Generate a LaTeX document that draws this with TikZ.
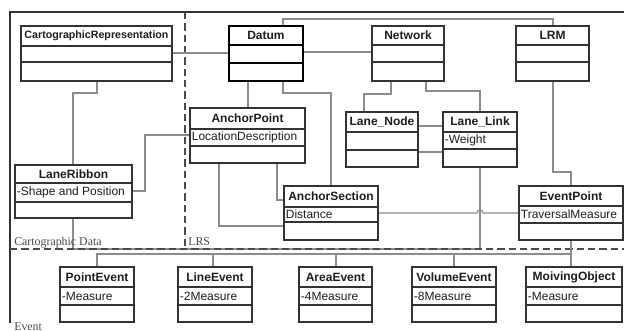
\documentclass[tikz,border=0pt]{standalone}
\usepackage{fontspec}
\setmainfont{Liberation Serif}
\setsansfont{Liberation Sans}
\definecolor{boxc}{HTML}{333333}
\definecolor{connc}{HTML}{8C8C8C}
\definecolor{sepc}{HTML}{4A4A4A}
\definecolor{txtc}{HTML}{1E1E1E}
\pgfdeclarelayer{backl}
\pgfdeclarelayer{connl}
\pgfsetlayers{backl,connl,main}
\tikzset{
  clsbox/.style={draw=boxc, line width=0.85pt, fill=white, inner sep=0pt, outer sep=0pt, rectangle},
  clsline/.style={draw=boxc, line width=0.85pt},
  curbox/.style={},
  clstitle/.style={inner sep=0pt, text=txtc, font=\sffamily\bfseries\fontsize{9}{10}\selectfont},
  clsattr/.style={inner sep=1.2pt, text=txtc, font=\sffamily\fontsize{9}{10}\selectfont},
  conn/.style={draw=connc, line width=0.85pt},
  sepline/.style={draw=sepc, line width=1pt, dash pattern=on 5.5pt off 3pt},
  framel/.style={draw=boxc, line width=0.85pt},
  region/.style={inner sep=0pt, text=sepc, font=\rmfamily\fontsize{8.9}{10}\selectfont},
}
% id x1 y1 x2 y2 d1 d2 title attr
\newcommand\umlcls[9]{%
  \node[clsbox, curbox, minimum width={(#4-#2)*0.75pt}, minimum height={(#5-#3)*0.75pt}] (#1) at ({(#2+#4)/2},{(#3+#5)/2}) {};
  \draw[clsline, curbox] (#2,#6) -- (#4,#6) (#2,#7) -- (#4,#7);
  \node[clstitle] (#1-t) at ({(#2+#4)/2},{(#3+#6)/2}) {#8};
  \node[clsattr, anchor=west] (#1-a) at (#2,{(#6+#7)/2}) {#9};
}
\begin{document}
\begin{tikzpicture}[x=0.75pt,y=-0.75pt]
\useasboundingbox (0,0) rectangle (624,331);
\begin{pgfonlayer}{backl}
\fill[white] (0,0) rectangle (624,331);
\end{pgfonlayer}

% classes
\umlcls{cart}{21}{26}{172}{81}{46}{62}{\fontsize{8}{9}\selectfont CartographicRepresentation}{}
\tikzset{curbox/.style={line width=2.2pt, draw=black}}
\umlcls{datum}{229}{26}{303}{81}{45}{63}{Datum}{}
\tikzset{curbox/.style={}}
\umlcls{network}{372}{26}{444}{81}{45}{62}{Network}{}
\umlcls{lrm}{516}{26}{589}{81}{45}{62}{LRM}{}
\umlcls{anchorpoint}{190}{108}{305}{163}{129}{146}{AnchorPoint}{LocationDescription}
\umlcls{lanenode}{346}{112}{418}{167}{132}{150}{Lane\_Node}{}
\umlcls{lanelink}{443}{112}{517}{167}{132}{149}{Lane\_Link}{-Weight}
\umlcls{laneribbon}{15}{165}{132}{218}{183}{202}{LaneRibbon}{-Shape and Position}
\umlcls{anchorsection}{284}{186}{378}{240}{207}{222}{AnchorSection}{Distance}
\umlcls{eventpoint}{519}{186}{623}{240}{206}{223}{EventPoint}{TraversalMeasure}
\umlcls{pointevent}{60}{267}{134}{322}{287}{305}{PointEvent}{-Measure}
\umlcls{lineevent}{178}{267}{252}{322}{287}{305}{LineEvent}{-2Measure}
\umlcls{areaevent}{299}{267}{372}{322}{287}{305}{AreaEvent}{-4Measure}
\umlcls{volumeevent}{412}{267}{496}{322}{287}{305}{VolumeEvent}{-8Measure}
\umlcls{moivingobject}{526}{267}{622}{322}{287}{305}{MoivingObject}{-Measure}

\begin{pgfonlayer}{connl}
% frame and separators
\draw[framel] (10,323) -- (10,12) -- (624,12);
\draw[sepline] (185,12) -- (185,249);
% connectors
\draw[conn] (laneribbon.south -| 73,0) |- (480,249) -- (lanelink.south -| 480,0);
\draw[sepline] (10,249) -- (624,249);
\draw[conn] (cart.east |- 0,53) -- (datum.west |- 0,53);
\draw[conn] (cart.south -| 97,0) |- (73,93) -- (laneribbon.north -| 73,0);
\draw[conn] (laneribbon.east |- 0,191) -| (145,135) -- (anchorpoint.west |- 0,135);
\draw[conn] (datum.south -| 248,0) -- (anchorpoint.north -| 248,0);
\draw[conn] (datum.south -| 283,0) |- (331,93) -- (anchorsection.north -| 331,0);
\draw[conn] (datum.east |- 0,52) -- (network.west |- 0,52);
\draw[conn] (datum.north -| 283,0) |- (553,19) -- (lrm.north -| 553,0);
\draw[conn] (network.south -| 391,0) |- (364,94) -- (lanenode.north -| 364,0);
\draw[conn] (network.south -| 426,0) |- (480,91) -- (lanelink.north -| 480,0);
\draw[conn] (lanenode.east |- 0,126) -- (lanelink.west |- 0,126);
\draw[conn] (lanenode.east |- 0,152) -- (lanelink.west |- 0,152);
\draw[conn] (lrm.south -| 553,0) |- (571,172) -- (eventpoint.north -| 571,0);
\draw[conn] (anchorpoint.south -| 219,0) |- (anchorsection.west |- 0,226);
\draw[conn] (anchorpoint.south -| 277,0) |- (anchorsection.west |- 0,200);
\draw[conn] (anchorsection.east |- 0,213) -- (477,213) arc[start angle=180,end angle=360,radius=3] -- (eventpoint.west |- 0,213);
\draw[conn] (eventpoint.south -| 571,0) -- (moivingobject.north -| 571,0);
\draw[conn] (pointevent.north -| 97,0) |- (571,254);
\draw[conn] (lineevent.north -| 213,0) -- (213,254);
\draw[conn] (areaevent.north -| 336,0) -- (336,254);
\draw[conn] (volumeevent.north -| 454,0) -- (454,254);
\end{pgfonlayer}

% region labels
\node[region, anchor=base west] (lblcart) at (14,245) {Cartographic Data};
\node[region, anchor=base west] (lbllrs) at (188,245) {LRS};
\node[region, anchor=base west] (lblevent) at (14,330) {Event};
\end{tikzpicture}
\end{document}
